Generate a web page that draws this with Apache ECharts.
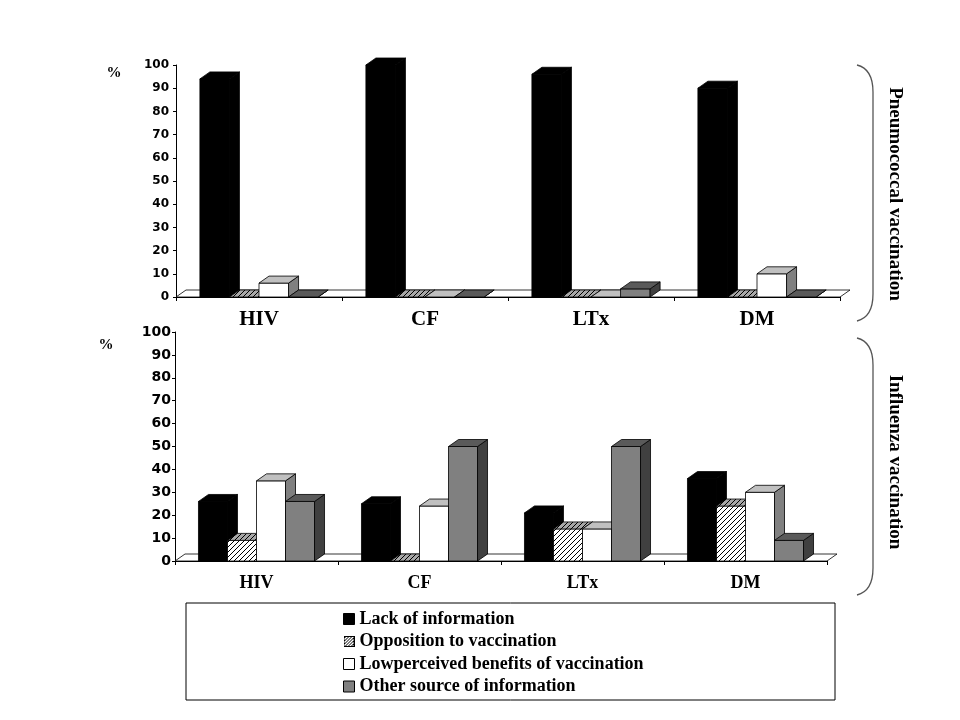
<!DOCTYPE html>
<html><head><meta charset="utf-8">
<script src="https://cdn.jsdelivr.net/npm/echarts@6/dist/echarts.min.js"></script>
<style>html,body{margin:0;padding:0;background:#fff}#c{width:960px;height:720px}</style>
</head><body><div id="c"></div>
<script>
// ---------- data ----------
const categories = ['HIV', 'CF', 'LTx', 'DM'];
const seriesNames = ['Lack of information', 'Opposition to vaccination', 'Lowperceived benefits of vaccination', 'Other source of information'];
const yTicks = { min: 0, max: 100, interval: 10 };
// Pneumococcal vaccination (%)
const pneumoLack = [94, 100, 96, 90];
const pneumoOpposition = [0, 0, 0, 0];
const pneumoLowBenefit = [6, 0, 0, 10];
const pneumoOther = [0, 0, 3.5, 0];
// Influenza vaccination (%)
const fluLack = [26, 25, 21, 36];
const fluOpposition = [9, 0, 14, 24];
const fluLowBenefit = [35, 24, 14, 30];
const fluOther = [26, 50, 50, 9];

// ---------- styling ----------
const SERIF = '"Liberation Serif", "Times New Roman", serif';
const SANS = '"DejaVu Sans", Verdana, sans-serif';
const BAR_FRAC = 0.178, DX = 10, DY = 7;

function hatch(bg, line, size) {
  const s = size, c = document.createElement('canvas');
  c.width = s; c.height = s;
  const g = c.getContext('2d');
  g.fillStyle = bg; g.fillRect(0, 0, s, s);
  g.strokeStyle = line; g.lineWidth = 1;
  g.beginPath();
  g.moveTo(0, s); g.lineTo(s, 0);
  g.moveTo(-1, 1); g.lineTo(1, -1);
  g.moveTo(s - 1, s + 1); g.lineTo(s + 1, s - 1);
  g.stroke();
  return c;
}
const hatchFront = { image: hatch('#ffffff', '#000000', 5), repeat: 'repeat' };
const hatchTop = { image: hatch('#a8a8a8', '#000000', 5), repeat: 'repeat' };
const hatchSide = { image: hatch('#808080', '#000000', 5), repeat: 'repeat' };

function hatchIcon() {
  const c = document.createElement('canvas'); c.width = 11; c.height = 11;
  const g = c.getContext('2d');
  g.fillStyle = '#fff'; g.fillRect(0, 0, 11, 11);
  g.strokeStyle = '#000'; g.lineWidth = 1;
  g.beginPath();
  for (let k = -11; k < 22; k += 3) { g.moveTo(k, 11); g.lineTo(k + 11, 0); }
  g.stroke();
  g.strokeRect(0.5, 0.5, 10, 10);
  return 'image://' + c.toDataURL();
}

const faces = [
  { front: '#000000', top: '#000000', side: '#000000', legend: '#000000' },
  { front: hatchFront, top: hatchTop, side: hatchSide, legend: '#ffffff' },
  { front: '#ffffff', top: '#c0c0c0', side: '#808080', legend: '#ffffff' },
  { front: '#808080', top: '#5a5a5a', side: '#404040', legend: '#808080' }
];

function barSeries(name, idx, values, axis) {
  const f = faces[idx];
  return {
    type: 'custom', name: name, xAxisIndex: axis, yAxisIndex: axis,
    itemStyle: { color: f.legend },
    data: values.map((v, i) => [i, v]),
    renderItem: function (params, api) {
      const c = api.value(0), v = api.value(1);
      const top = api.coord([c, v]);
      const base = api.coord([c, 0]);
      const band = api.size([1, 0])[0];
      const bw = band * BAR_FRAC;
      const x0 = top[0] - 2 * bw + idx * bw;
      const x1 = x0 + bw;
      const yt = top[1], yb = base[1];
      const ln = { stroke: '#000', lineWidth: 0.8 };
      return {
        type: 'group',
        children: [
          { type: 'polygon', shape: { points: [[x0, yt], [x1, yt], [x1, yb], [x0, yb]] }, style: Object.assign({ fill: f.front }, ln) },
          { type: 'polygon', shape: { points: [[x1, yt], [x1 + DX, yt - DY], [x1 + DX, yb - DY], [x1, yb]] }, style: Object.assign({ fill: f.side }, ln) },
          { type: 'polygon', shape: { points: [[x0, yt], [x0 + DX, yt - DY], [x1 + DX, yt - DY], [x1, yt]] }, style: Object.assign({ fill: f.top }, ln) }
        ]
      };
    }
  };
}

function floorSeries(axis) {
  return {
    type: 'custom', name: 'floor' + axis, xAxisIndex: axis, yAxisIndex: axis, silent: true,
    data: [[0, 0]],
    renderItem: function (params, api) {
      const cs = params.coordSys;
      const yb = cs.y + cs.height, xl = cs.x, xr = cs.x + cs.width;
      return {
        type: 'polygon',
        shape: { points: [[xl, yb], [xl + DX, yb - DY], [xr + DX, yb - DY], [xr, yb]] },
        style: { fill: '#fff', stroke: '#000', lineWidth: 0.8 }
      };
    }
  };
}

function xAxis(grid, fontSize, margin) {
  return {
    type: 'category', gridIndex: grid, data: categories,
    axisLine: { show: true, lineStyle: { color: '#000', width: 1 } },
    axisTick: { show: true, alignWithLabel: false, length: 4, lineStyle: { color: '#000' } },
    axisLabel: { color: '#000', fontFamily: SERIF, fontWeight: 'bold', fontSize: fontSize, margin: margin },
    splitLine: { show: false }
  };
}
function yAxis(grid, fontSize, margin) {
  return {
    type: 'value', gridIndex: grid, min: yTicks.min, max: yTicks.max, interval: yTicks.interval,
    axisLine: { show: true, lineStyle: { color: '#000', width: 1 } },
    axisTick: { show: true, length: 3, lineStyle: { color: '#000' } },
    axisLabel: { color: '#000', fontFamily: SANS, fontWeight: 'bold', fontSize: fontSize, margin: margin },
    splitLine: { show: false }
  };
}

function bracket(y0, y1) {
  const st = { stroke: '#555', lineWidth: 1.3, fill: null };
  return [
    { type: 'bezierCurve', shape: { x1: 857, y1: y0, cpx1: 869, cpy1: y0 + 3, cpx2: 873, cpy2: y0 + 13, x2: 873, y2: y0 + 27 }, style: st },
    { type: 'line', shape: { x1: 873, y1: y0 + 27, x2: 873, y2: y1 - 27 }, style: st },
    { type: 'bezierCurve', shape: { x1: 873, y1: y1 - 27, cpx1: 873, cpy1: y1 - 13, cpx2: 869, cpy2: y1 - 3, x2: 857, y2: y1 }, style: st }
  ];
}

const chart = echarts.init(document.getElementById('c'), null, { renderer: 'canvas' });
const option = {
  backgroundColor: '#ffffff',
  animation: false,
  grid: [
    { left: 176, top: 65, width: 664, height: 232 },
    { left: 175, top: 332, width: 652, height: 229 }
  ],
  xAxis: [xAxis(0, 21, 12), xAxis(1, 18, 13)],
  yAxis: [yAxis(0, 12, 7), yAxis(1, 14, 4)],
  legend: {
    orient: 'vertical', left: 343, top: 610, padding: 0,
    itemWidth: 11, itemHeight: 11, itemGap: 4.5,
    icon: 'rect',
    itemStyle: { borderColor: '#000', borderWidth: 1 },
    textStyle: { color: '#000', fontFamily: SERIF, fontWeight: 'bold', fontSize: 18, lineHeight: 18 },
    data: [
      { name: seriesNames[0] },
      { name: seriesNames[1], icon: hatchIcon() },
      { name: seriesNames[2] },
      { name: seriesNames[3] }
    ],
    selectedMode: false
  },
  graphic: [
    { type: 'rect', shape: { x: 186, y: 603, width: 649, height: 97 }, style: { fill: 'none', stroke: '#000', lineWidth: 1 }, z: 0 },
    { type: 'text', x: 114, y: 73, style: { text: '%', font: 'bold 15px ' + SERIF, fill: '#000', textAlign: 'center', textVerticalAlign: 'middle' } },
    { type: 'text', x: 106, y: 345, style: { text: '%', font: 'bold 15px ' + SERIF, fill: '#000', textAlign: 'center', textVerticalAlign: 'middle' } },
    { type: 'text', x: 895, y: 194, rotation: -Math.PI / 2, style: { text: 'Pneumococcal vaccination', font: 'bold 19px ' + SERIF, fill: '#000', textAlign: 'center', textVerticalAlign: 'middle' } },
    { type: 'text', x: 895, y: 462, rotation: -Math.PI / 2, style: { text: 'Influenza vaccination', font: 'bold 19px ' + SERIF, fill: '#000', textAlign: 'center', textVerticalAlign: 'middle' } }
  ].concat(bracket(65, 321), bracket(338, 595)),
  series: [
    floorSeries(0),
    barSeries(seriesNames[0], 0, pneumoLack, 0),
    barSeries(seriesNames[1], 1, pneumoOpposition, 0),
    barSeries(seriesNames[2], 2, pneumoLowBenefit, 0),
    barSeries(seriesNames[3], 3, pneumoOther, 0),
    floorSeries(1),
    barSeries(seriesNames[0], 0, fluLack, 1),
    barSeries(seriesNames[1], 1, fluOpposition, 1),
    barSeries(seriesNames[2], 2, fluLowBenefit, 1),
    barSeries(seriesNames[3], 3, fluOther, 1)
  ]
};
chart.setOption(option);
</script>
</body></html>
